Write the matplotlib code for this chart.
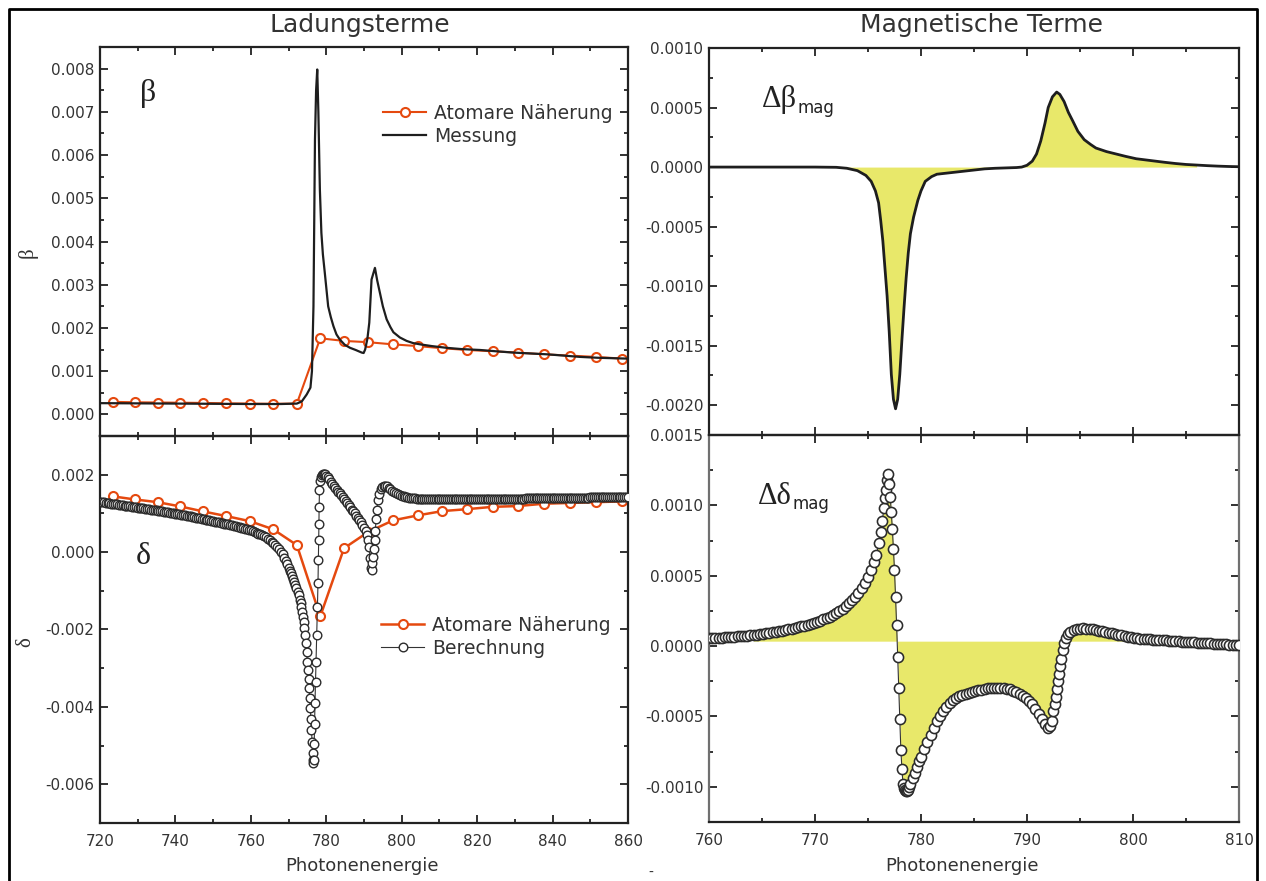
import numpy as np
import matplotlib
matplotlib.use('Agg')
import matplotlib.pyplot as plt
from matplotlib.ticker import MultipleLocator, FormatStrFormatter
from matplotlib.lines import Line2D

# ---------------- data ----------------
# Henke-type grid for the atomic approximation (eV)
atom_E = [723.4, 729.3, 735.3, 741.3, 747.4, 753.5, 759.7, 765.9, 772.2, 778.4, 784.7,
          791.1, 797.7, 804.3, 810.8, 817.4, 824.1, 830.8, 837.7, 844.6, 851.5, 858.4]
atom_beta_e4 = [2.9, 2.8, 2.75, 2.7, 2.65, 2.55, 2.5, 2.45, 2.5, 17.6, 17.0,
                16.7, 16.2, 15.8, 15.3, 14.9, 14.6, 14.3, 13.9, 13.6, 13.3, 12.9]
atom_delta_e4 = [14.4, 13.6, 12.9, 11.8, 10.5, 9.3, 8.0, 5.9, 1.8, -16.6, 1.0,
                 5.2, 8.2, 9.5, 10.6, 11.1, 11.7, 11.9, 12.5, 12.7, 12.9, 13.1]

# measured beta
mess_E = [720, 730, 740, 750, 760, 768, 772.2, 773.5, 774.8, 775.8, 776.2, 776.6, 777.0,
          777.3, 777.6, 777.9, 778.3, 778.7, 779.1, 779.6, 780.5, 781.2, 781.9, 782.7,
          783.6, 784.9, 786.3, 787.8, 789.4, 789.9, 790.3, 790.9, 791.4, 792.0, 792.9,
          793.5, 794.2, 795.0, 796.0, 797.0, 797.8, 799.5, 801.3, 803.0, 804.9, 808.0,
          811.9, 816.0, 820.8, 825.0, 829.6, 834.0, 838.5, 843.0, 847.3, 852.0, 856.0, 860.0]
mess_beta_e4 = [2.6, 2.55, 2.5, 2.45, 2.4, 2.4, 2.5, 3.0, 4.6, 6.2, 10.0, 25.0, 63.6,
                75.0, 79.8, 70.0, 52.0, 42.0, 37.0, 32.8, 25.0, 22.5, 20.4, 18.5,
                17.3, 16.1, 15.4, 14.9, 14.3, 14.2, 15.0, 17.5, 21.2, 31.2, 33.9,
                31.0, 28.2, 25.0, 22.0, 20.2, 19.0, 17.8, 17.0, 16.5, 16.2, 15.8,
                15.4, 15.1, 14.9, 14.6, 14.3, 14.1, 13.9, 13.6, 13.3, 13.1, 13.0, 12.9]

# calculated delta (Berechnung): pre-edge tail, edge region, post-edge tail
calc_pre_E = [720, 720.5, 721, 721.5, 722, 722.5, 723, 723.5, 724, 724.5, 725, 725.5,
              726, 726.5, 727, 727.5, 728, 728.5, 729, 729.5, 730, 730.5, 731, 731.5,
              732, 732.5, 733, 733.5, 734, 734.5, 735, 735.5, 736, 736.5, 737, 737.5,
              738, 738.5, 739, 739.5, 740, 740.5, 741, 741.5, 742, 742.5, 743, 743.5,
              744, 744.5, 745, 745.5, 746, 746.5, 747, 747.5, 748, 748.5, 749, 749.5,
              750, 750.5, 751, 751.5, 752, 752.5, 753, 753.5, 754, 754.5, 755, 755.5,
              756, 756.5, 757, 757.5, 758, 758.5, 759, 759.5, 760, 760.5, 761, 761.5,
              762, 762.5, 763, 763.5, 764, 764.5, 765, 765.5, 766, 766.5, 767]
calc_pre_e4 = [13.0, 12.92, 12.85, 12.78, 12.7, 12.62, 12.55, 12.48, 12.4, 12.32, 12.25,
               12.18, 12.1, 12.02, 11.95, 11.88, 11.8, 11.72, 11.65, 11.58, 11.5, 11.42,
               11.35, 11.28, 11.2, 11.12, 11.05, 10.98, 10.9, 10.82, 10.75, 10.68, 10.6,
               10.52, 10.45, 10.35, 10.25, 10.18, 10.1, 10.0, 9.9, 9.82, 9.75, 9.65,
               9.55, 9.48, 9.4, 9.3, 9.2, 9.1, 9.0, 8.9, 8.8, 8.7, 8.6, 8.5, 8.4, 8.3,
               8.2, 8.1, 8.0, 7.9, 7.8, 7.7, 7.6, 7.48, 7.35, 7.25, 7.15, 7.02, 6.9,
               6.8, 6.7, 6.58, 6.45, 6.32, 6.2, 6.05, 5.9, 5.75, 5.6, 5.4, 5.2, 5.0,
               4.8, 4.55, 4.3, 4.05, 3.8, 3.45, 3.1, 2.7, 2.3, 1.85, 1.4]
calc_edge_E = [767.5, 768.0, 768.4, 768.8, 769.2, 769.6, 770.0, 770.3, 770.6, 770.9,
               771.2, 771.5, 771.8, 772.1, 772.4, 772.7, 773.0, 773.2, 773.4, 773.6,
               773.8, 774.0, 774.2, 774.4, 774.6, 774.8, 775.0, 775.15, 775.3, 775.45,
               775.6, 775.75, 775.9, 776.05, 776.2, 776.35, 776.5, 776.6, 776.7, 776.8,
               776.9, 777.0, 777.15, 777.3, 777.5, 777.65, 777.8, 777.9, 778.0, 778.05,
               778.1, 778.2, 778.4, 778.6, 778.8, 779.0, 779.3, 779.6, 780.0, 780.4,
               780.8, 781.2, 781.6, 782.0, 782.4, 782.8, 783.2, 783.6, 784.0, 784.4,
               784.8, 785.2, 785.6, 786.0, 786.4, 786.8, 787.2, 787.6, 788.0, 788.4,
               788.8, 789.2, 789.6, 790.0, 790.4, 790.8, 791.1, 791.4, 791.6, 791.8,
               792.0, 792.2, 792.4, 792.6, 792.8, 793.0, 793.2, 793.4, 793.7, 794.0,
               794.4, 794.8, 795.2, 795.6, 796.0, 796.5, 797.0, 797.5]
calc_edge_e4 = [0.8, 0.1, -0.6, -1.4, -2.3, -3.1, -4.0, -4.8, -5.5, -6.3,
                -7.0, -7.7, -8.5, -9.3, -10.2, -11.2, -12.3, -13.2, -14.3, -15.4,
                -16.7, -18.1, -19.7, -21.5, -23.5, -25.8, -28.3, -30.5, -32.8, -35.2,
                -37.6, -40.2, -43.0, -46.0, -49.0, -51.8, -53.8, -54.5, -53.8, -49.7,
                -44.5, -39.0, -33.5, -28.3, -21.5, -14.1, -8.0, -2.1, 3.2, 7.2,
                11.7, 16.0, 18.5, 19.5, 20.0, 20.3, 20.3, 20.1, 19.7, 19.3,
                18.8, 18.2, 17.7, 17.1, 16.6, 16.1, 15.6, 15.2, 14.7, 14.2,
                13.6, 13.1, 12.6, 12.1, 11.6, 11.0, 10.5, 10.0, 9.4, 8.8,
                8.3, 7.7, 7.0, 6.3, 5.5, 4.5, 3.0, 1.2, -1.5, -4.0,
                -4.6, -2.8, -1.2, 0.8, 3.0, 5.5, 8.5, 11.0, 13.5, 15.0,
                16.2, 16.9, 17.2, 17.2, 17.0, 16.6, 16.2, 15.8]
calc_post_E = [798, 798.5, 799, 799.5, 800, 800.5, 801, 801.5, 802, 802.5, 803, 803.5,
               804, 804.5, 805, 805.5, 806, 806.5, 807, 807.5, 808, 808.5, 809, 809.5,
               810, 810.5, 811, 811.5, 812, 812.5, 813, 813.5, 814, 814.5, 815, 815.5,
               816, 816.5, 817, 817.5, 818, 818.5, 819, 819.5, 820, 820.5, 821, 821.5,
               822, 822.5, 823, 823.5, 824, 824.5, 825, 825.5, 826, 826.5, 827, 827.5,
               828, 828.5, 829, 829.5, 830, 830.5, 831, 831.5, 832, 832.5, 833, 833.5,
               834, 834.5, 835, 835.5, 836, 836.5, 837, 837.5, 838, 838.5, 839, 839.5,
               840, 840.5, 841, 841.5, 842, 842.5, 843, 843.5, 844, 844.5, 845, 845.5,
               846, 846.5, 847, 847.5, 848, 848.5, 849, 849.5, 850, 850.5, 851, 851.5,
               852, 852.5, 853, 853.5, 854, 854.5, 855, 855.5, 856, 856.5, 857, 857.5,
               858, 858.5, 859, 859.5, 860]
calc_post_e4 = [15.5, 15.25, 15.0, 14.8, 14.6, 14.45, 14.3, 14.2, 14.1, 14.02, 13.95,
                13.9, 13.85, 13.82, 13.8, 13.78, 13.75, 13.72, 13.7, 13.7, 13.7, 13.68,
                13.65, 13.65, 13.65, 13.62, 13.6, 13.6, 13.6, 13.6, 13.6, 13.6, 13.6,
                13.6, 13.6, 13.6, 13.6, 13.6, 13.6, 13.6, 13.6, 13.6, 13.6, 13.6, 13.6,
                13.61, 13.62, 13.63, 13.64, 13.65, 13.66, 13.67, 13.68, 13.69, 13.7,
                13.71, 13.72, 13.73, 13.74, 13.75, 13.76, 13.77, 13.78, 13.79, 13.8,
                13.81, 13.82, 13.83, 13.84, 13.85, 13.86, 13.87, 13.88, 13.89, 13.9,
                13.91, 13.92, 13.93, 13.94, 13.95, 13.96, 13.97, 13.98, 13.99, 14.0,
                14.0, 14.0, 14.01, 14.02, 14.02, 14.03, 14.03, 14.04, 14.04, 14.05,
                14.06, 14.06, 14.07, 14.07, 14.08, 14.08, 14.09, 14.1, 14.1, 14.11,
                14.11, 14.12, 14.12, 14.13, 14.14, 14.14, 14.15, 14.15, 14.16, 14.16,
                14.17, 14.17, 14.18, 14.18, 14.19, 14.19, 14.2, 14.2, 14.2, 14.2]

# magnetic beta (measured)
mb_E = [760, 765, 770, 772, 773, 774, 774.8, 775.3, 775.7, 776.0, 776.2, 776.4, 776.6,
        776.8, 777.0, 777.2, 777.4, 777.6, 777.8, 778.0, 778.2, 778.4, 778.6, 778.8,
        779.0, 779.3, 779.7, 780.0, 780.4, 781.0, 781.5, 782.0, 783.0, 784.0, 785.0,
        786.0, 787.0, 788.0, 789.0, 789.5, 790.0, 790.5, 790.9, 791.3, 791.7, 792.0,
        792.4, 792.8, 793.1, 793.5, 793.9, 794.3, 794.8, 795.4, 796.0, 796.5, 797.5,
        798.4, 799.3, 800.3, 801.2, 802.1, 803.0, 804.0, 805.0, 806.0, 807.0, 808.0,
        809.0, 810.0]
mb_val_e4 = [0.0, 0.0, 0.0, -0.02, -0.1, -0.3, -0.7, -1.2, -2.0, -3.0, -4.5, -6.2, -8.5,
             -10.8, -13.8, -17.4, -19.5, -20.3, -19.5, -17.4, -14.5, -11.8, -9.3, -7.2,
             -5.6, -4.2, -2.8, -2.0, -1.2, -0.8, -0.6, -0.55, -0.45, -0.35, -0.25,
             -0.15, -0.1, -0.07, -0.04, 0.0, 0.15, 0.5, 1.1, 2.2, 3.7, 5.0,
             5.9, 6.3, 6.1, 5.5, 4.6, 3.9, 3.0, 2.3, 1.9, 1.6, 1.3,
             1.1, 0.9, 0.7, 0.6, 0.5, 0.4, 0.3, 0.22, 0.17, 0.12, 0.08,
             0.05, 0.03]

# magnetic delta (calculated)
md_E = [760.0, 760.3, 760.6, 760.9, 761.2, 761.5, 761.8, 762.1, 762.4, 762.7, 763.0,
        763.3, 763.6, 763.9, 764.2, 764.5, 764.8, 765.1, 765.4, 765.7, 766.0, 766.3,
        766.6, 766.9, 767.2, 767.5, 767.8, 768.1, 768.4, 768.7, 769.0, 769.3, 769.6,
        769.9, 770.2, 770.5, 770.8, 771.1, 771.4, 771.7, 772.0, 772.3, 772.6, 772.9,
        773.2, 773.5, 773.8, 774.1, 774.4, 774.7, 775.0, 775.3, 775.6, 775.8, 776.0,
        776.2, 776.35, 776.5, 776.6, 776.7, 776.8, 776.9, 777.0, 777.1, 777.2, 777.3,
        777.4, 777.5, 777.6, 777.7, 777.8, 777.9, 778.0, 778.1, 778.2, 778.3, 778.4,
        778.5, 778.6, 778.7, 778.8, 778.9, 779.0, 779.2, 779.4, 779.6, 779.8, 780.0,
        780.3, 780.6, 780.9, 781.2, 781.5, 781.8, 782.1, 782.4, 782.7, 783.0, 783.3,
        783.6, 783.9, 784.2, 784.5, 784.8, 785.1, 785.4, 785.7, 786.0, 786.3, 786.6,
        786.9, 787.2, 787.5, 787.8, 788.1, 788.4, 788.7, 789.0, 789.3, 789.6, 789.9,
        790.2, 790.5, 790.8, 791.1, 791.4, 791.7, 792.0, 792.2, 792.35, 792.5, 792.6,
        792.7, 792.8, 792.9, 793.0, 793.1, 793.2, 793.35, 793.5, 793.7, 793.9, 794.1,
        794.4, 794.7, 795.0, 795.3, 795.6, 795.9, 796.2, 796.5, 796.8, 797.1, 797.4,
        797.7, 798.0, 798.3, 798.6, 798.9, 799.2, 799.5, 799.8, 800.1, 800.4, 800.7,
        801.0, 801.3, 801.6, 801.9, 802.2, 802.5, 802.8, 803.1, 803.4, 803.7, 804.0,
        804.3, 804.6, 804.9, 805.2, 805.5, 805.8, 806.1, 806.4, 806.7, 807.0, 807.3,
        807.6, 807.9, 808.2, 808.5, 808.8, 809.1, 809.4, 809.7, 810.0]
md_val_e4 = [0.55, 0.56, 0.58, 0.59, 0.60, 0.62, 0.63, 0.65, 0.67, 0.69, 0.71,
             0.73, 0.75, 0.77, 0.80, 0.82, 0.85, 0.88, 0.91, 0.94, 0.97, 1.01,
             1.05, 1.10, 1.15, 1.20, 1.25, 1.30, 1.35, 1.40, 1.46, 1.52, 1.58,
             1.64, 1.72, 1.80, 1.89, 1.98, 2.09, 2.21, 2.35, 2.50, 2.67, 2.85,
             3.05, 3.25, 3.50, 3.78, 4.10, 4.50, 4.90, 5.40, 5.95, 6.5, 7.3,
             8.1, 8.9, 9.8, 10.5, 11.1, 11.8, 12.2, 11.5, 10.6, 9.5, 8.3,
             6.9, 5.4, 3.5, 1.5, -0.8, -3.0, -5.2, -7.4, -8.7, -9.8, -10.1,
             -10.2, -10.3, -10.3, -10.2, -10.0, -9.8, -9.4, -9.0, -8.6, -8.2, -7.85,
             -7.3, -6.8, -6.3, -5.8, -5.35, -4.95, -4.6, -4.3, -4.05, -3.85, -3.7,
             -3.57, -3.47, -3.39, -3.32, -3.25, -3.2, -3.14, -3.09, -3.05, -3.01, -2.98,
             -2.96, -2.95, -2.96, -2.98, -3.02, -3.08, -3.16, -3.26, -3.38, -3.52, -3.7,
             -3.9, -4.15, -4.45, -4.8, -5.2, -5.55, -5.8, -5.7, -5.3, -4.6, -4.1,
             -3.6, -3.05, -2.5, -1.95, -1.4, -0.9, -0.3, 0.2, 0.6, 0.85, 1.0,
             1.12, 1.2, 1.25, 1.26, 1.25, 1.22, 1.18, 1.14, 1.09, 1.05, 1.0,
             0.95, 0.9, 0.85, 0.8, 0.76, 0.72, 0.68, 0.63, 0.58, 0.55, 0.52,
             0.5, 0.48, 0.47, 0.46, 0.45, 0.43, 0.42, 0.40, 0.38, 0.37, 0.35,
             0.34, 0.32, 0.30, 0.29, 0.27, 0.26, 0.25, 0.23, 0.22, 0.20, 0.19,
             0.17, 0.16, 0.15, 0.13, 0.12, 0.11, 0.09, 0.08, 0.07]
md_fill_base_e4 = 0.35

UNIT = 1e-4

# ---------------- figure ----------------
plt.rcParams['font.family'] = ['DejaVu Sans']
W, H = 1266, 881
fig = plt.figure(figsize=(W / 100, H / 100), dpi=100)


def rect(x0, y0, x1, y1):
    return [x0 / W, 1 - y1 / H, (x1 - x0) / W, (y1 - y0) / H]


def fx(px):
    return px / W


def fy(py):
    return 1 - py / H


ax1 = fig.add_axes(rect(100, 47, 628, 436))
ax2 = fig.add_axes(rect(100, 436, 628, 823))
ax3 = fig.add_axes(rect(709, 48, 1239, 435))
ax4 = fig.add_axes(rect(709, 435, 1239, 822))

SPINE = '#222222'
TXT = '#333333'
ORANGE = '#E5490F'
YELLOW = '#E8E86A'
EDGE = '#2b2b2b'


def style(ax, xlim, ylim, xmaj, xmin, ymaj, ymin, yfmt, xlabels):
    ax.set_xlim(*xlim)
    ax.set_ylim(*ylim)
    ax.xaxis.set_major_locator(MultipleLocator(xmaj))
    ax.xaxis.set_minor_locator(MultipleLocator(xmin))
    ax.yaxis.set_major_locator(MultipleLocator(ymaj))
    ax.yaxis.set_minor_locator(MultipleLocator(ymin))
    ax.yaxis.set_major_formatter(FormatStrFormatter(yfmt))
    ax.xaxis.set_major_formatter(FormatStrFormatter('%d'))
    ax.tick_params(which='both', direction='in', top=True, right=True,
                   width=1.3, color=SPINE, labelsize=11, labelcolor=TXT)
    ax.tick_params(which='major', length=6)
    ax.tick_params(which='minor', length=3)
    ax.tick_params(axis='y', pad=4)
    ax.tick_params(axis='x', pad=8)
    if not xlabels:
        ax.tick_params(labelbottom=False)
    for s in ax.spines.values():
        s.set_linewidth(1.6)
        s.set_color(SPINE)
    ax.set_facecolor('none')


# ---- top left: beta
aE = np.array(atom_E)
ax1.plot(np.array(mess_E), np.array(mess_beta_e4) * UNIT, color='#1e1e1e', lw=1.6,
         label='Messung', zorder=3)
ax1.plot(aE, np.array(atom_beta_e4) * UNIT, color=ORANGE, lw=1.5, marker='o', ms=6.5,
         mfc='white', mec=ORANGE, mew=1.5, label='Atomare Näherung', zorder=2)
style(ax1, (720, 860), (-0.0005, 0.0085), 20, 10, 0.001, 0.0005, '%.3f', False)
h, l = ax1.get_legend_handles_labels()
ax1.legend([h[1], h[0]], [l[1], l[0]], loc='upper left',
           bbox_to_anchor=((383 - 100) / 528, (436 - 104) / 389), frameon=False,
           fontsize=13.5, handlelength=2.3, handletextpad=0.4, labelspacing=0.2,
           borderpad=0, borderaxespad=0, labelcolor=TXT)

# ---- bottom left: delta
calc_E = calc_pre_E + calc_edge_E + calc_post_E
calc_delta_e4 = calc_pre_e4 + calc_edge_e4 + calc_post_e4
ax2.plot(np.array(calc_E), np.array(calc_delta_e4) * UNIT, color='#333333', lw=0.8,
         marker='o', ms=6.2, mfc='white', mec=EDGE, mew=1.0, label='Berechnung',
         zorder=3)
ax2.plot(aE, np.array(atom_delta_e4) * UNIT, color=ORANGE, lw=1.8, marker='o', ms=6.5,
         mfc='white', mec=ORANGE, mew=1.5, label='Atomare Näherung', zorder=2)
style(ax2, (720, 860), (-0.007, 0.003), 20, 10, 0.002, 0.001, '%.3f', True)
h, l = ax2.get_legend_handles_labels()
ax2.legend([h[1], h[0]], [l[1], l[0]], loc='upper left',
           bbox_to_anchor=((381 - 100) / 528, (823 - 616) / 387), frameon=False,
           fontsize=13.5, handlelength=2.3, handletextpad=0.4, labelspacing=0.2,
           borderpad=0, borderaxespad=0, labelcolor=TXT)

# ---- top right: magnetic beta
mbE = np.array(mb_E)
mbV = np.array(mb_val_e4) * UNIT
ax3.fill_between(mbE, mbV, 0, where=(mbE >= 772) & (mbE <= 806), color=YELLOW, lw=0,
                 zorder=1)
ax3.plot(mbE, mbV, color='#1e1e1e', lw=2.0, zorder=3)
style(ax3, (760, 810), (-0.00225, 0.0010), 10, 5, 0.0005, 0.00025, '%.4f', False)

# ---- bottom right: magnetic delta
mdE = np.array(md_E)
mdV = np.array(md_val_e4) * UNIT
ax4.fill_between(mdE, mdV, md_fill_base_e4 * UNIT, where=(mdE >= 764) & (mdE <= 800),
                 color=YELLOW, lw=0, zorder=1)
ax4.plot(mdE, mdV, color='#333333', lw=0.8, marker='o', ms=7.3, mfc='white',
         mec=EDGE, mew=1.15, zorder=3)
style(ax4, (760, 810), (-0.00125, 0.0015), 10, 5, 0.0005, 0.00025, '%.4f', True)
ax4.spines['left'].set_color('#707070')
ax4.spines['right'].set_color('#707070')

# ---- texts
SERIF = 'Liberation Serif'
fig.text(fx(360), fy(32), 'Ladungsterme', ha='center', va='baseline', fontsize=18,
         color=TXT)
fig.text(fx(982), fy(32), 'Magnetische Terme', ha='center', va='baseline', fontsize=18,
         color=TXT)
fig.text(fx(362), fy(871), 'Photonenenergie', ha='center', va='baseline', fontsize=13,
         color=TXT)
fig.text(fx(962), fy(871), 'Photonenenergie', ha='center', va='baseline', fontsize=13,
         color=TXT)
fig.text(fx(28), fy(253), 'β', ha='center', va='center', rotation=90, fontsize=15,
         family=SERIF, color=TXT)
fig.text(fx(26), fy(642), 'δ', ha='center', va='center', rotation=90, fontsize=15,
         family=SERIF, color=TXT)
fig.text(fx(148), fy(93), 'β', ha='center', va='center', fontsize=23, family=SERIF,
         color='#222222')
fig.text(fx(143), fy(557), 'δ', ha='center', va='center', fontsize=23, family=SERIF,
         color='#222222')
t1 = fig.text(fx(762), fy(100), 'Δβ', ha='left', va='center', fontsize=22, family=SERIF,
              color='#222222')
ax3.annotate('mag', xy=(1.0, 0.22), xycoords=t1, xytext=(0.5, 0),
             textcoords='offset points', ha='left', va='center', fontsize=12,
             color='#222222', annotation_clip=False)
t2 = fig.text(fx(758), fy(496), 'Δδ', ha='left', va='center', fontsize=22, family=SERIF,
              color='#222222')
ax4.annotate('mag', xy=(1.0, 0.22), xycoords=t2, xytext=(0.5, 0),
             textcoords='offset points', ha='left', va='center', fontsize=12,
             color='#222222', annotation_clip=False)
fig.text(fx(651), fy(873), '-', ha='center', va='center', fontsize=10, color=TXT)

# outer frame
fig.add_artist(Line2D([fx(9), fx(9), fx(1257), fx(1257)], [0, fy(9), fy(9), 0],
                      transform=fig.transFigure, color='black', lw=2.0))

fig.savefig('out.png', dpi=100)
